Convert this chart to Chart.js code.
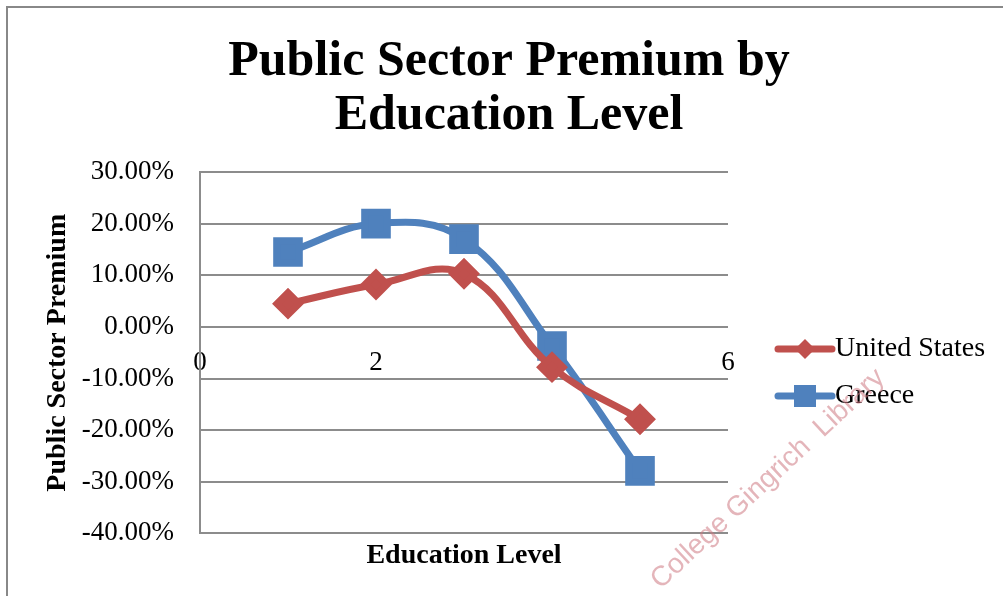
<!DOCTYPE html>
<html>
<head>
<meta charset="utf-8">
<script src="https://cdn.jsdelivr.net/npm/chart.js@4"></script>
<style>
  html,body{margin:0;padding:0;background:#fff;}
  #wrap{width:1003px;height:596px;position:relative;}
</style>
</head>
<body>
<div id="wrap"><canvas id="premiumChart" width="1003" height="596"></canvas></div>
<script>
// data
const educationLevels = [1, 2, 3, 4, 5];
const usPremium = [0.045, 0.082, 0.103, -0.078, -0.179];
const greecePremium = [0.145, 0.200, 0.170, -0.037, -0.279];
const seriesNames = ['United States', 'Greece'];
const seriesColors = ['#C0504D', '#4F81BD'];
const yTicks = { min: -0.4, max: 0.3, step: 0.1 };
const xTicks = { min: 0, max: 6, step: 2 };

const serif = "'Liberation Serif', 'Times New Roman', serif";

function toPoints(vals){
    return educationLevels.map((x,i)=>({x:x, y:vals[i]}));
}

// gray frame of the excel chart (only top and left are visible in the shot)
const framePlugin = {
    id:'frame',
    beforeDraw(chart){
        const c = chart.ctx;
        c.save();
        c.fillStyle = '#fff';
        c.fillRect(0,0,chart.width,chart.height);
        c.strokeStyle = '#888';
        c.lineWidth = 2;
        c.strokeRect(7,7,1100,700);
        c.restore();
    }
};

// legend like excel: line with marker in the middle
const excelLegend = {
    id:'excelLegend',
    afterDraw(chart){
        const c = chart.ctx;
        const x0 = 778, x1 = 832;
        const rows = [349, 396];
        c.save();
        chart.data.datasets.forEach((ds,i)=>{
            const y = rows[i];
            c.strokeStyle = ds.borderColor;
            c.lineWidth = 7;
            c.lineCap = 'round';
            c.beginPath();
            c.moveTo(x0,y); c.lineTo(x1,y);
            c.stroke();
            c.fillStyle = ds.borderColor;
            const mx = (x0+x1)/2;
            if(ds.pointStyle=='rect'){
                c.fillRect(mx-11,y-11,22,22);
            }else{
                c.beginPath();
                c.moveTo(mx-10,y); c.lineTo(mx,y-10); c.lineTo(mx+10,y); c.lineTo(mx,y+10);
                c.closePath(); c.fill();
            }
            c.fillStyle = '#000';
            c.font = "28px " + serif;
            c.textBaseline = 'middle';
            c.textAlign = 'left';
            c.fillText(ds.label, x1+3, y);
        });
        c.restore();
    }
};

// library watermark stamped on the scan
const watermark = {
    id:'watermark',
    afterDraw(chart){
        const c = chart.ctx;
        c.save();
        c.translate(768,479);
        c.rotate(-43*Math.PI/180);
        c.fillStyle = 'rgba(205,120,130,0.55)';
        c.font = "28px 'Liberation Sans', Arial, sans-serif";
        c.textAlign = 'center';
        c.textBaseline = 'middle';
        c.fillText('College Gingrich  Library',0,0);
        c.restore();
    }
};

const ctx = document.getElementById('premiumChart').getContext('2d');
const myChart = new Chart(ctx, {
    type:'line',
    data:{
        datasets:[{
            label:seriesNames[0],
            data:toPoints(usPremium),
            borderColor:seriesColors[0],
            backgroundColor:seriesColors[0],
            borderWidth:7,
            pointStyle:'rectRot',
            pointRadius:11,
            tension:0.4,
            xAxisID:'x'
        },{
            label:seriesNames[1],
            data:toPoints(greecePremium),
            borderColor:seriesColors[1],
            backgroundColor:seriesColors[1],
            borderWidth:7,
            pointStyle:'rect',
            pointRadius:16,
            tension:0.4,
            xAxisID:'x'
        }]
    },
    options:{
        responsive:false,
        animation:false,
        events:[],
        layout:{padding:{left:29,right:14,top:0,bottom:19}},
        plugins:{
            legend:{display:false},
            tooltip:{enabled:false},
            title:{
                display:true,
                text:['Public Sector Premium by','Education Level'],
                color:'#000',
                font:{family:serif,size:50,weight:'bold',lineHeight:1.08},
                padding:{top:35,bottom:29}
            }
        },
        scales:{
            x:{
                type:'linear',
                position:{y:0},
                min:xTicks.min,
                max:xTicks.max,
                grid:{display:false,drawTicks:false},
                border:{display:false},
                ticks:{stepSize:xTicks.step,color:'#000',padding:20,font:{family:serif,size:27}}
            },
            x2:{
                type:'linear',
                position:'bottom',
                grid:{display:false,drawTicks:false},
                border:{display:false},
                ticks:{display:false},
                title:{display:true,text:'Education Level',color:'#000',padding:{top:6,bottom:4},
                    font:{family:serif,size:28,weight:'bold'}}
            },
            y:{
                min:yTicks.min,
                max:yTicks.max,
                grid:{color:'#8c8c8c',lineWidth:2,drawTicks:false},
                border:{display:true,color:'#8c8c8c',width:2},
                ticks:{
                    stepSize:yTicks.step,
                    color:'#000',
                    padding:26,
                    font:{family:serif,size:27},
                    callback:(v)=>(Math.round(v*1000)/10).toFixed(2)+'%'
                },
                title:{display:true,text:'Public Sector Premium',color:'#000',padding:{top:12,bottom:12},
                    font:{family:serif,size:28,weight:'bold'}},
                afterFit:(s)=>{ s.width = 171; }
            },
            // empty axis that keeps room for the legend on the right
            yRoom:{
                position:'right',
                grid:{display:false,drawTicks:false},
                border:{display:false},
                ticks:{display:false},
                afterFit:(s)=>{ s.width = 261; }
            }
        }
    },
    plugins:[framePlugin,excelLegend,watermark]
});
</script>
</body>
</html>
